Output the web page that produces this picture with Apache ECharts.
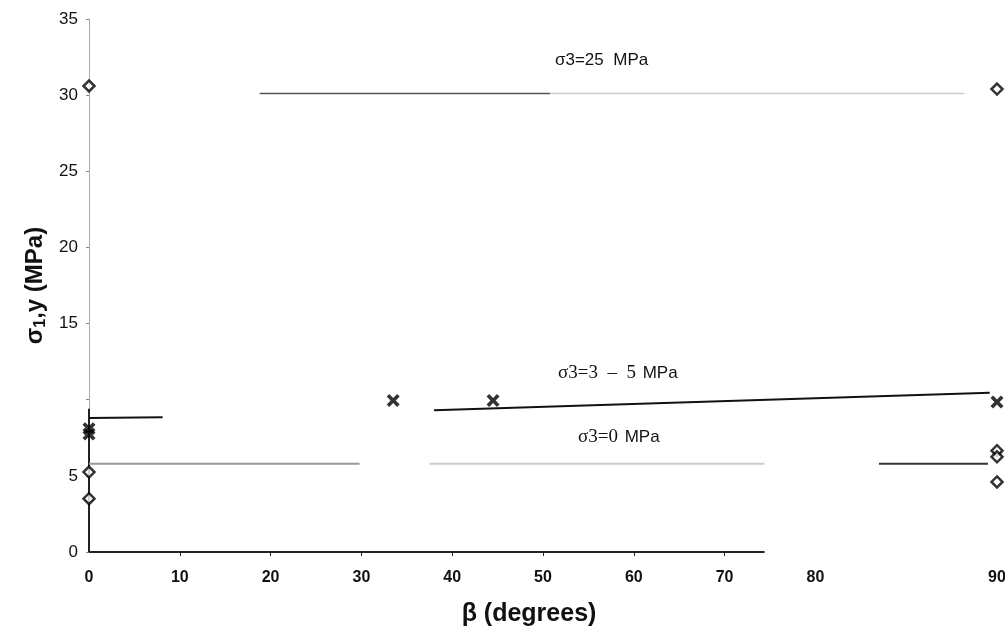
<!DOCTYPE html>
<html>
<head>
<meta charset="utf-8">
<script src="https://cdn.jsdelivr.net/npm/echarts@6/dist/echarts.min.js"></script>
<style>html,body{margin:0;padding:0;background:#fff;}#c{width:1005px;height:638px;}</style>
</head>
<body>
<div id="c"></div>
<script>
// ---- data (β in degrees, σ1,y in MPa) ----
var crossBeta = [0, 0, 33.5, 44.5, 90];
var crossSigma = [7.75, 8.1, 9.95, 9.95, 9.85];
var diamondBeta = [0, 0, 0, 90, 90, 90, 90];
var diamondSigma = [30.6, 5.25, 3.5, 30.4, 6.65, 6.25, 4.6];
// fitted lines (endpoints)
var fit25Beta = [18.8, 50.8, 88.2];
var fit25Sigma = [30.1, 30.1, 30.1];
var fit35LeftBeta = [0, 8.1];
var fit35LeftSigma = [8.8, 8.85];
var fit35Beta = [38, 89.6];
var fit35Sigma = [9.3, 10.45];
var fit0Beta = [0, 29.8, 37.5, 74.4, 83.5, 89.5];
var fit0Sigma = [5.8, 5.8, 5.8, 5.8, 5.8, 5.8];
var xTickBeta = [0, 10, 20, 30, 40, 50, 60, 70, 80, 90];
var yTickLabels = [0, 5, 15, 20, 25, 30, 35];
var yTicks = [0, 5, 10, 15, 20, 25, 30, 35];
var xAxisLineEnd = 74.4;
var yAxisDarkTop = 9.4;

// the scanned axis is stretched between 80 and 90 degrees
function toT(b) { return b <= 80 ? b : 80 + 2 * (b - 80); }
function fromT(t) { return t <= 80 ? t : 80 + (t - 80) / 2; }
function pts(bs, ss) { return bs.map(function (b, i) { return [toT(b), ss[i]]; }); }
function seg(bs, ss, i, j) { return [[toT(bs[i]), ss[i]], [toT(bs[j]), ss[j]]]; }

var XPATH = 'path://M0,2 L2,0 L5,3 L8,0 L10,2 L7,5 L10,8 L8,10 L5,7 L2,10 L0,8 L3,5 Z';

function lineSeries(data, color, width) {
  return { type: 'line', data: data, symbol: 'none', silent: true, z: 2,
    lineStyle: { color: color, width: width }, animation: false };
}

var chart = echarts.init(document.getElementById('c'));
chart.setOption({
  animation: false,
  backgroundColor: '#fff',
  grid: { left: 89, right: 8, top: 19, bottom: 86, containLabel: false, outerBoundsMode: 'none' },
  xAxis: {
    type: 'value', min: 0, max: 100,
    axisLine: { show: false },
    splitLine: { show: false },
    axisTick: { show: true, customValues: xTickBeta.slice(1, 8).map(toT), length: 4, lineStyle: { color: '#222' } },
    axisLabel: { customValues: xTickBeta.map(toT),
      formatter: function (v) { return String(Math.round(fromT(v))); },
      color: '#111', fontSize: 16, fontWeight: 'bold', fontFamily: 'Liberation Sans, Arial', margin: 18 },
    name: 'β (degrees)', nameLocation: 'middle', nameGap: 50,
    nameTextStyle: { color: '#111', fontSize: 25, fontWeight: 'bold', fontFamily: 'Liberation Sans, Arial', padding: [0, 28, 0, 0] }
  },
  yAxis: {
    type: 'value', min: 0, max: 35,
    axisLine: { show: true, lineStyle: { color: '#aaa', width: 1 } },
    splitLine: { show: false },
    axisTick: { show: true, customValues: yTicks, length: 3, lineStyle: { color: '#888' } },
    axisLabel: { customValues: yTickLabels, color: '#111', fontSize: 17, fontFamily: 'Liberation Sans, Arial', margin: 11 },
    name: '{a|σ}{s|1}{a|,y (MPa)}', nameLocation: 'middle', nameGap: 40, nameRotate: 90,
    nameTextStyle: { padding: [0, 0, 0, 0], rich: {
      a: { fontSize: 24, fontWeight: 'bold', color: '#111', fontFamily: 'Liberation Sans, Arial' },
      s: { fontSize: 16, fontWeight: 'bold', color: '#111', fontFamily: 'Liberation Sans, Arial', verticalAlign: 'bottom', padding: [10, 0, 0, 0] }
    } }
  },
  graphic: [
    { type: 'text', left: 555, top: 52, style: { text: 'σ3=25  MPa', font: '17px "Liberation Sans", Arial', fill: '#111' } },
    { type: 'text', left: 558, top: 364, style: { rich: {
        t: { font: '19px "Liberation Serif", "Times New Roman"', fill: '#111' },
        m: { font: '17px "Liberation Sans", Arial', fill: '#111' } },
        text: '{t|σ3=3  –  5}  {m|MPa}' } },
    { type: 'text', left: 578, top: 428, style: { rich: {
        t: { font: '19px "Liberation Serif", "Times New Roman"', fill: '#111' },
        m: { font: '17px "Liberation Sans", Arial', fill: '#111' } },
        text: '{t|σ3=0}  {m|MPa}' } }
  ],
  series: [
    // axis segments as drawn in the scan
    lineSeries([[0, 0], [toT(xAxisLineEnd), 0]], '#222', 2),
    lineSeries([[0, 0], [0, yAxisDarkTop]], '#222', 2),
    // σ3 = 25 MPa
    lineSeries(seg(fit25Beta, fit25Sigma, 0, 1), '#555', 1.5),
    lineSeries(seg(fit25Beta, fit25Sigma, 1, 2), '#ccc', 1.5),
    // σ3 = 3–5 MPa
    lineSeries(pts(fit35LeftBeta, fit35LeftSigma), '#111', 2),
    lineSeries(pts(fit35Beta, fit35Sigma), '#111', 2),
    // σ3 = 0 MPa
    lineSeries(seg(fit0Beta, fit0Sigma, 0, 1), '#999', 2),
    lineSeries(seg(fit0Beta, fit0Sigma, 2, 3), '#ccc', 2),
    lineSeries(seg(fit0Beta, fit0Sigma, 4, 5), '#333', 2),
    {
      type: 'scatter', data: pts(crossBeta, crossSigma), symbol: XPATH, symbolSize: 13, z: 5,
      itemStyle: { color: '#000' }, silent: true
    },
    {
      type: 'scatter', data: pts(diamondBeta, diamondSigma), symbol: 'diamond', symbolSize: 11, z: 6,
      itemStyle: { color: '#fff', borderColor: '#000', borderWidth: 2.5 }, silent: true
    }
  ]
});
</script>
</body>
</html>
